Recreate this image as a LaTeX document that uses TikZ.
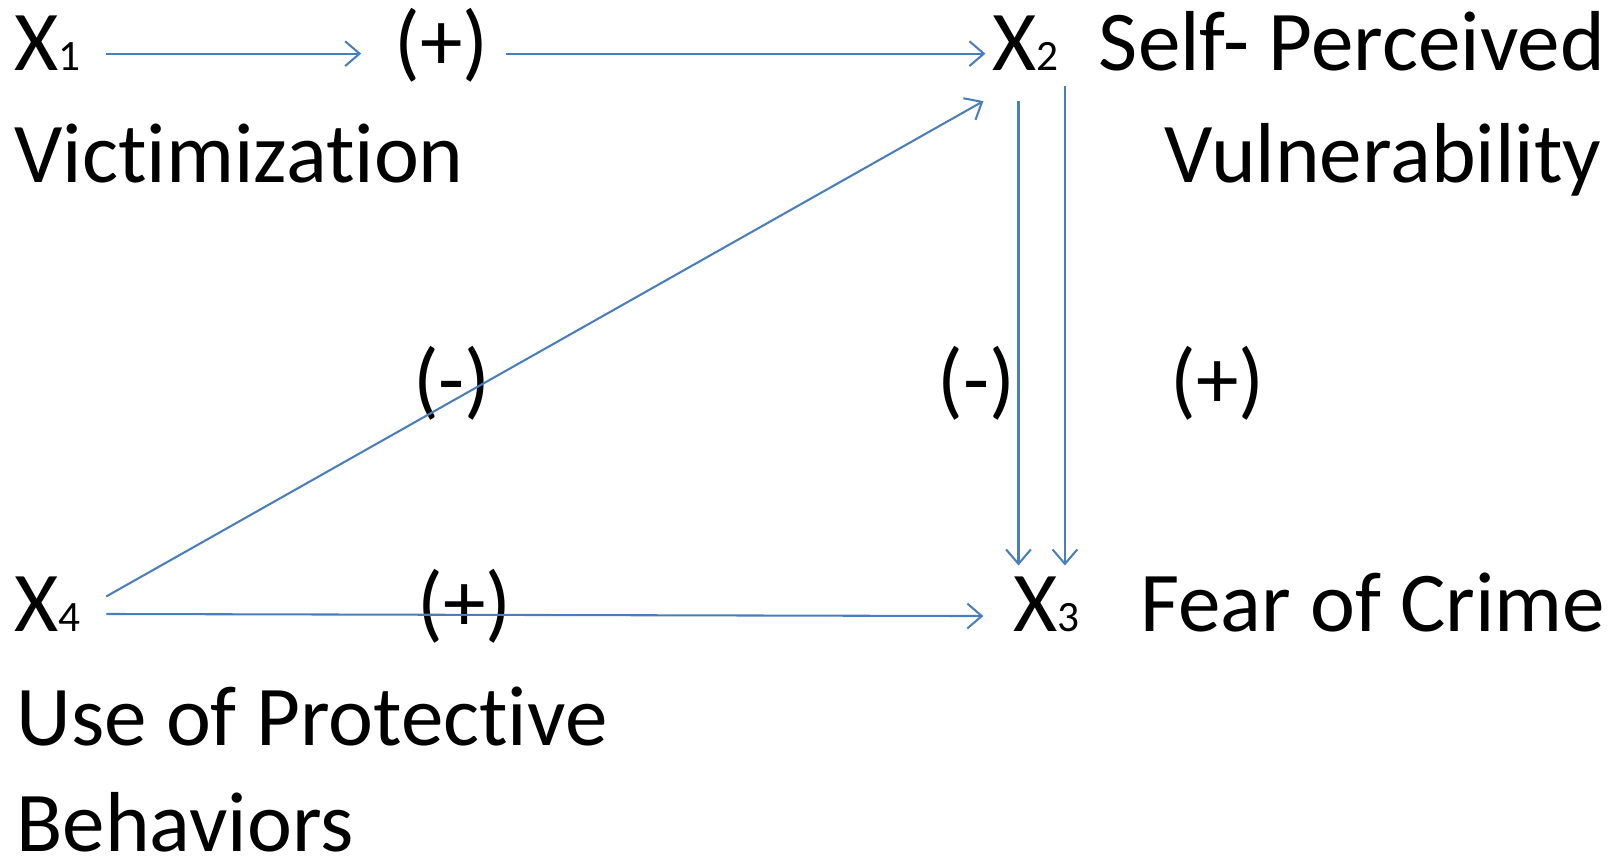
\documentclass[tikz,border=0pt]{standalone}
\usepackage{fontspec}
\setmainfont{Carlito}[RawFeature={-liga}]
\usetikzlibrary{arrows.meta}
\definecolor{arrowblue}{HTML}{4A7EBB}
\newcommand\sbs[1]{{\fontsize{42}{50}\selectfont #1}}
\begin{document}
\begin{tikzpicture}[x=1pt,y=-1pt,
  lbl/.style={inner sep=0pt, outer sep=0pt, anchor=base west, font=\fontsize{82.5}{100}\selectfont},
  lblc/.style={lbl, anchor=base},
  conn/.style={draw=arrowblue, line width=2pt, -{Straight Barb[length=14pt,width=24pt,line width=2pt]}}]
\useasboundingbox (0,0) rectangle (1568,836);
\node[lbl] (x1) at (14,68) {X\sbs{1}};
\node[lbl] (vic) at (14,177) {Victimization};
\node[lblc] (p1) at (428,68) {(+)};
\node[lbl] (x2) at (962,68) {X\sbs{2}};
\node[lbl] (spv) at (1065,68) {Self- Perceived};
\node[lbl, anchor=base east] (vul) at (1552,177) {Vulnerability};
\node[lblc] (m1) at (438,396) {(-)};
\node[lblc] (m2) at (946,396) {(-)};
\node[lblc] (p2) at (1180,396) {(+)};
\node[lbl] (x4) at (14,612) {X\sbs{4}};
\node[lblc] (p3) at (450,612) {(+)};
\node[lbl] (x3) at (982,612) {X\sbs{3}};
\node[lbl] (fear) at (1105,612) {Fear of Crime};
\node[lbl] (use) at (16,722) {Use of Protective};
\node[lbl] (beh) at (16,825) {Behaviors};
% connector end points
\coordinate (a1s) at (103,52);
\coordinate (a1e) at (350,52);
\coordinate (a2s) at (490,52);
\coordinate (a2e) at (955,52);
\coordinate (dgs) at (103,578);
\coordinate (dge) at (953,98);
\coordinate (v1s) at (987,98);
\coordinate (v1e) at (987,548);
\coordinate (v2s) at (1032,83);
\coordinate (v2e) at (1032,548);
\coordinate (hbs) at (103,595);
\coordinate (hbe) at (953,597);
\draw[conn] (a1s) -- (a1e);
\draw[conn] (a2s) -- (a2e);
\draw[conn] (dgs) -- (dge);
\draw[conn] (v1s) -- (v1e);
\draw[conn] (v2s) -- (v2e);
\draw[conn] (hbs) -- (hbe);
\end{tikzpicture}
\end{document}
